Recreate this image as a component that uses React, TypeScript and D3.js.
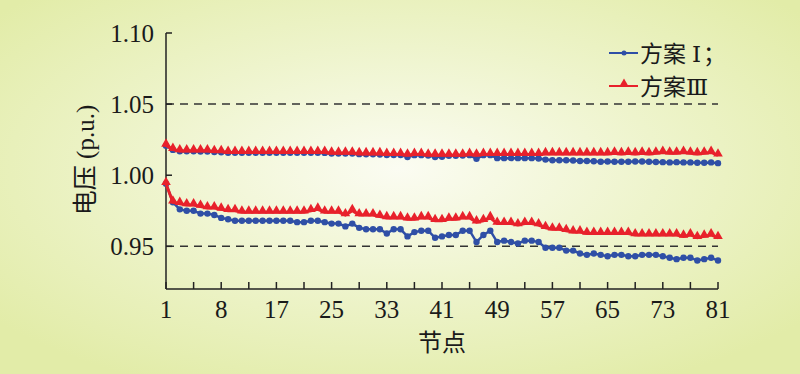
import React from 'react';
import * as d3 from 'd3';

// node index 1..81
const nodes = d3.range(1, 82);

// upper feeder voltages (p.u.)
const upperPlanI = [
  1.0208, 1.0178, 1.0168, 1.0168, 1.0168, 1.0167, 1.0167, 1.0163, 1.0162, 1.0158,
  1.0158, 1.0158, 1.0158, 1.0158, 1.0158, 1.0158, 1.0158, 1.0158, 1.0158, 1.0158,
  1.0158, 1.0158, 1.0158, 1.0157, 1.0152, 1.0152, 1.0152, 1.0152, 1.0148, 1.0147,
  1.0147, 1.0146, 1.0142, 1.0142, 1.0142, 1.0128, 1.0141, 1.0141, 1.0138, 1.0128,
  1.013, 1.0137, 1.0137, 1.0138, 1.0141, 1.0115, 1.0141, 1.0141, 1.012, 1.012,
  1.012, 1.012, 1.012, 1.012, 1.0118, 1.011, 1.0105, 1.0105, 1.0105, 1.0103,
  1.01, 1.01, 1.0098, 1.0095, 1.0097, 1.0095, 1.0095, 1.0095, 1.0097, 1.0097,
  1.0095, 1.0093, 1.0092, 1.009, 1.0092, 1.009, 1.009, 1.0088, 1.0088, 1.009,
  1.0085,
];
const upperPlanIII = [
  1.021, 1.018, 1.017, 1.017, 1.017, 1.017, 1.017, 1.0165, 1.0165, 1.016,
  1.016, 1.016, 1.016, 1.016, 1.016, 1.016, 1.016, 1.016, 1.016, 1.016,
  1.016, 1.016, 1.016, 1.016, 1.0155, 1.0155, 1.0155, 1.0155, 1.015, 1.015,
  1.015, 1.015, 1.0145, 1.0145, 1.0145, 1.014, 1.0145, 1.0145, 1.014, 1.014,
  1.014, 1.014, 1.014, 1.014, 1.0145, 1.014, 1.0145, 1.0145, 1.0145, 1.0145,
  1.0145, 1.0145, 1.0145, 1.0145, 1.0145, 1.015, 1.015, 1.015, 1.015, 1.015,
  1.015, 1.015, 1.015, 1.015, 1.015, 1.0155, 1.015, 1.0155, 1.015, 1.0155,
  1.015, 1.0155, 1.016, 1.0155, 1.0155, 1.016, 1.0155, 1.015, 1.0155, 1.016,
  1.014,
];

// lower feeder voltages (p.u.)
const lowerPlanI = [
  0.994, 0.981, 0.976, 0.975, 0.975, 0.973, 0.973, 0.972, 0.970, 0.969,
  0.968, 0.968, 0.968, 0.968, 0.968, 0.968, 0.968, 0.968, 0.968, 0.967,
  0.967, 0.968, 0.968, 0.967, 0.966, 0.966, 0.964, 0.966, 0.963, 0.962,
  0.962, 0.962, 0.959, 0.962, 0.962, 0.957, 0.960, 0.961, 0.961, 0.956,
  0.957, 0.958, 0.958, 0.961, 0.961, 0.953, 0.958, 0.961, 0.953, 0.954,
  0.953, 0.952, 0.954, 0.954, 0.953, 0.949, 0.949, 0.949, 0.947, 0.947,
  0.945, 0.944, 0.945, 0.944, 0.943, 0.944, 0.944, 0.943, 0.943, 0.944,
  0.944, 0.944, 0.943, 0.942, 0.941, 0.942, 0.942, 0.940, 0.941, 0.942,
  0.940,
];
const lowerPlanIII = [
  0.994, 0.981, 0.980, 0.979, 0.979, 0.978, 0.977, 0.977, 0.976, 0.975,
  0.975, 0.974, 0.974, 0.974, 0.974, 0.974, 0.974, 0.974, 0.974, 0.974,
  0.974, 0.975, 0.976, 0.974, 0.974, 0.974, 0.972, 0.975, 0.972, 0.972,
  0.972, 0.971, 0.970, 0.970, 0.970, 0.969, 0.969, 0.970, 0.970, 0.968,
  0.968, 0.969, 0.969, 0.970, 0.970, 0.967, 0.968, 0.970, 0.966, 0.966,
  0.966, 0.965, 0.966, 0.966, 0.965, 0.963, 0.962, 0.962, 0.961, 0.960,
  0.960, 0.959, 0.959, 0.959, 0.959, 0.959, 0.959, 0.959, 0.958, 0.958,
  0.958, 0.958, 0.958, 0.958, 0.958, 0.957, 0.958, 0.956, 0.957, 0.958,
  0.956,
];

const xTickNodes = d3.range(1, 82, 4);
const xLabelNodes = [1, 9, 17, 25, 33, 41, 49, 57, 65, 73, 81];
const xLabels = ['1', '8', '17', '25', '33', '41', '49', '57', '65', '73', '81'];
const yTicks = [0.95, 1.0, 1.05, 1.1];
const limitLines = [0.95, 1.05];

const BLUE = '#2f4fa6';
const RED = '#e8212b';
const SERIF = '"Liberation Serif", "DejaVu Serif", serif';
const CJK = '"Noto Sans CJK SC", sans-serif';

const W = 800;
const H = 374;

const App: React.FC = () => {
  const x = d3.scaleLinear().domain([1, 81]).range([166, 718]);
  const y = d3.scaleLinear().domain([0.92, 1.1]).range([289, 33]);

  const line = d3
    .line<number>()
    .x((_, i) => x(nodes[i]))
    .y(d => y(d));

  const tri = d3.symbol().type(d3.symbolTriangle).size(40)();

  const blueSeries = [upperPlanI, lowerPlanI];
  const redSeries = [upperPlanIII, lowerPlanIII];

  return (
    <svg width={W} height={H} style={{ position: 'absolute', left: 0, top: 0 }}>
      <defs>
        <radialGradient id="bg" cx="0.5" cy="0.45" r="0.65">
          <stop offset="0%" stopColor="#fbfcf2" />
          <stop offset="50%" stopColor="#eef4cc" />
          <stop offset="100%" stopColor="#e2eca8" />
        </radialGradient>
      </defs>
      <rect width={W} height={H} fill="url(#bg)" />

      {/* limit lines */}
      {limitLines.map(v => (
        <line key={v} x1={x(1)} x2={x(81)} y1={y(v)} y2={y(v)}
          stroke="#333" strokeWidth={1.5} strokeDasharray="8,6" />
      ))}

      {/* axes */}
      <line x1={x(1)} x2={x(1)} y1={y(1.1)} y2={y(0.92)} stroke="#222" strokeWidth={1.5} />
      <line x1={x(1)} x2={x(81)} y1={y(0.92)} y2={y(0.92)} stroke="#222" strokeWidth={1.5} />
      {yTicks.map(t => (
        <g key={t}>
          <line x1={x(1)} x2={x(1) + 6} y1={y(t)} y2={y(t)} stroke="#222" strokeWidth={1.5} />
          <text x={x(1) - 12} y={y(t)} dy="0.35em" textAnchor="end"
            fontFamily={SERIF} fontSize={25} fill="#1a1a1a">{t.toFixed(2)}</text>
        </g>
      ))}
      {xTickNodes.map(t => (
        <line key={t} x1={x(t)} x2={x(t)} y1={y(0.92)} y2={y(0.92) - 7} stroke="#222" strokeWidth={1.5} />
      ))}
      {xLabelNodes.map((t, i) => (
        <text key={t} x={x(t)} y={318} textAnchor="middle"
          fontFamily={SERIF} fontSize={25} fill="#1a1a1a">{xLabels[i]}</text>
      ))}
      <text x={442} y={351} textAnchor="middle" fontFamily={CJK} fontSize={24} fill="#1a1a1a">节点</text>
      <text transform={`translate(94,${160}) rotate(-90)`} textAnchor="middle"
        fontSize={25} fill="#1a1a1a">
        <tspan fontFamily={CJK}>电压</tspan>
        <tspan fontFamily={SERIF}> (p.u.)</tspan>
      </text>

      {/* series */}
      {blueSeries.map((s, k) => (
        <g key={'b' + k}>
          <path d={line(s) ?? ''} fill="none" stroke={BLUE} strokeWidth={2.5} />
          {s.map((v, i) => (
            <circle key={i} cx={x(nodes[i])} cy={y(v)} r={3.2} fill={BLUE} />
          ))}
        </g>
      ))}
      {redSeries.map((s, k) => (
        <g key={'r' + k}>
          <path d={line(s) ?? ''} fill="none" stroke={RED} strokeWidth={3} />
          {s.map((v, i) => (
            <path key={i} d={tri ?? ''} transform={`translate(${x(nodes[i])},${y(v) - 1.5})`} fill={RED} />
          ))}
        </g>
      ))}

      {/* legend */}
      <g>
        <line x1={609} x2={638} y1={53} y2={53} stroke={BLUE} strokeWidth={2} />
        <circle cx={624} cy={53} r={2.5} fill={BLUE} />
        <text x={640} y={53} dy="0.38em" fontFamily={CJK} fontSize={23} fill="#1a1a1a">
          方案<tspan fontFamily={SERIF} dx={6}>Ⅰ</tspan><tspan dx={2}>；</tspan>
        </text>
        <line x1={609} x2={638} y1={86} y2={86} stroke={RED} strokeWidth={2} />
        <path d={tri ?? ''} transform="translate(624,84)" fill={RED} />
        <text x={640} y={86} dy="0.38em" fontFamily={CJK} fontSize={23} fill="#1a1a1a">
          方案<tspan fontFamily={SERIF}>Ⅲ</tspan>
        </text>
      </g>
    </svg>
  );
};

export default App;
